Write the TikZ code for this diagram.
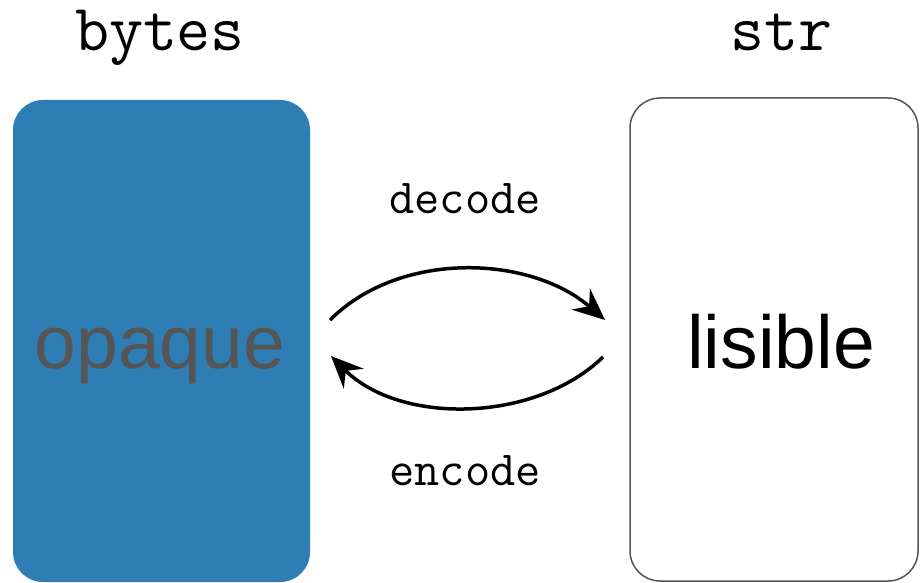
\documentclass[tikz,border=0pt]{standalone}
\usepackage{fontspec}
\setmainfont{Liberation Sans}
\usetikzlibrary{arrows.meta}
\definecolor{boxblue}{HTML}{2E7DB4}
\definecolor{bigtextgray}{HTML}{555555}
\definecolor{framegray}{HTML}{555555}
\tikzset{
  monolabel/.style={anchor=base, inner sep=0pt, font=\ttfamily\fontsize{66}{70}\selectfont},
  arrowlabel/.style={anchor=base, inner sep=0pt, font=\ttfamily\fontsize{49}{52}\selectfont},
  bigword/.style={anchor=base, inner sep=0pt, font=\fontsize{75}{78}\selectfont},
  flow/.style={line width=3.5pt, -{Stealth[length=32pt,width=28pt,inset=11pt]}}
}
\begin{document}
\begin{tikzpicture}[x=1pt,y=-1pt]
\useasboundingbox (0,0) rectangle (920,583);
% boxes
\fill[boxblue, rounded corners=30pt] (13,100) rectangle (310,582);
\draw[framegray, line width=1.5pt, rounded corners=30pt] (630,98) rectangle (918,581);
% headings
\node[monolabel] (bytes) at (160,51) {bytes};
\node[monolabel] (str) at (781,51) {str};
% box texts
\node[bigword, text=bigtextgray] (opaque) at (160,368) {opaque};
\node[bigword, text=black] (lisible) at (781,368) {lisible};
% arrow labels
\node[arrowlabel] (decode) at (465,213) {decode};
\node[arrowlabel] (encode) at (465,485) {encode};
% arrow end points
\coordinate (d1) at (330,320);
\coordinate (d2) at (605,320);
\coordinate (e1) at (603,357);
\coordinate (e2) at (331,356);
\draw[flow] (d1) .. controls (400,250) and (530,255) .. (d2);
\draw[flow] (e1) .. controls (535,423) and (400,425) .. (e2);
\end{tikzpicture}
\end{document}
